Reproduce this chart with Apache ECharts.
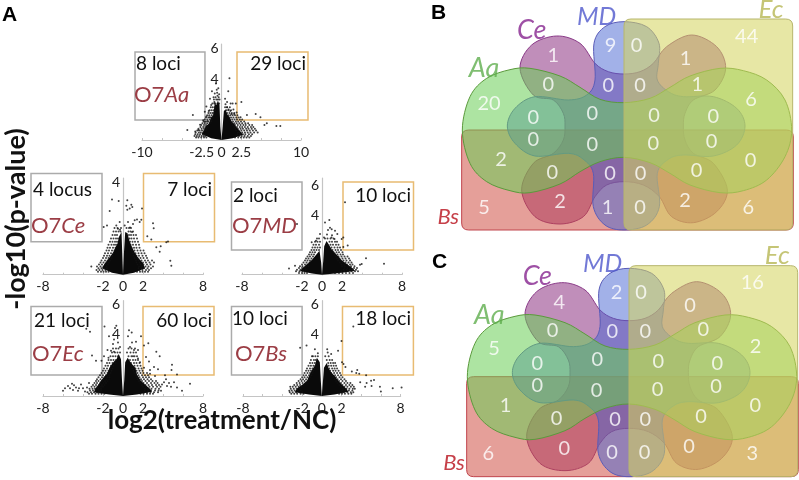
<!DOCTYPE html>
<html><head><meta charset="utf-8">
<style>html,body{margin:0;padding:0;background:#fff}#c{width:799px;height:480px}</style>
<script src="https://cdn.jsdelivr.net/npm/echarts@6/dist/echarts.min.js"></script>
</head><body><div id="c"></div>
<script>
// ---------- volcano data (log2 fold change, -log10 p) ----------
const xTicks10 = [-10,-2.5,0,2.5,10], xTicks8 = [-8,-2,0,2,8];
const yTicksAa = [4,6], yTicksCe = [4], yTicksMD = [4,6], yTicksEc = [4,6], yTicksBs = [4,6];
const lociAa = ['8 loci','29 loci'], lociCe = ['4 locus','7 loci'], lociMD = ['2 loci','10 loci'], lociEc = ['21 loci','60 loci'], lociBs = ['10 loci','18 loci'];

const coreAa = [[[0,0],[-.15,.9],[-.25,2.3],[-.45,2.6],[-.65,2.3],[-.85,2.4],[-1.05,1.6],[-1.3,1.5],[-1.6,1.05],[-1.9,.95],[-2.3,.55],[-2.5,.4],[-1.3,.12]],
                [[0,0],[.15,.9],[.3,1.9],[.5,2],[.75,1.65],[.95,1.55],[1.3,1.2],[1.6,1.05],[2,.75],[2.3,.6],[2.7,.35],[1.4,.12]]];
const ptsAa = [[-3.6,1.64],[-4.3,.65],[-3.3,.55],[-2.9,.65],[-2.7,1],[-2.3,1.3],[-2.1,1.85],[-1.9,2.2],[-1.45,2.7],[-1,2.8],[-1.2,3.2],[-.7,3.7],[-.4,3.4],[-.55,3.1],[-.3,3],[-.85,3.05],[-.75,2.8],[-1.3,2.3],[-1.6,1.9],[-1.9,1.55],[-2.1,1.2],[-1.5,1.5],[-1.75,1.25],[-.6,3.3],[-.35,2.8],[-.9,2.5],[-.5,2.9],
[1,4.05],[.85,3.2],[1.15,2.4],[1.8,2.4],[2.5,2.5],[1.5,2],[1.1,1.9],[.7,2.5],[.45,2.7],[.5,2.35],[1.4,2.4],[1.9,1.8],[2.4,1.5],[3.2,1.64],[4.3,1.7],[4.9,1.5],[5.7,1.1],[5.4,.98],[6.9,.92],[7.4,.92],[1.6,1.7],[.9,2],[.7,2.15],[1.25,1.7]];
const rowsAa = [[.16,[-3.2,-2.9,-2.55,-2.2,-1.9,1.7,2.1,2.45,2.8,3.15,3.5]],[.27,[-3.4,-3.1,-2.8,-2.5,-2.25,-2.05,1.85,2.2,2.55,2.9,3.3,3.7]],[.38,[-3.3,-3,-2.7,-2.35,-2.1,2,2.35,2.7,3,3.45,3.85]],[.5,[-3.25,-2.85,-2.6,-2.3,2.05,2.3,2.6,2.95,3.3,3.65,4.1,4.55]],[.62,[-3.05,-2.75,-2.45,-2.15,-1.95,1.85,2.15,2.5,2.85,3.2,3.55,3.95,4.35]],[.74,[-2.9,-2.5,-2.2,-1.9,1.75,2.05,2.4,2.7,3.1,3.4,3.8,4.2]],[.86,[-2.65,-2.3,-2.05,-1.75,1.6,1.95,2.3,2.6,2.95,3.3,3.7,4]],[.98,[-2.55,-2.2,-1.95,-1.6,1.4,1.7,2.05,2.4,2.75,3.05,3.5,3.85]],[1.1,[-2.4,-2.1,-1.8,-1.5,1.3,1.6,1.9,2.25,2.6,3,3.35]],[1.22,[-2.25,-1.95,-1.65,-1.3,1.15,1.45,1.8,2.1,2.45,2.85]],[1.35,[-2.1,-1.8,-1.5,-1.25,1.05,1.35,1.65,1.95,2.3,2.6]],[1.48,[-1.95,-1.65,-1.35,-1.1,.95,1.2,1.5,1.85,2.15]],[1.62,[-1.8,-1.55,-1.25,-1,.85,1.1,1.4,1.7,2]],[1.78,[-1.65,-1.4,-1.15,-.95,.7,1,1.3,1.6]],[1.95,[-1.5,-1.25,-1,-.8,.6,.85,1.2]],[2.15,[-1.35,-1.1,-.85,.45,.7,1.05]],[2.4,[-1.15,-.9,-.75,-.3]],[2.65,[-.95,-.65,-.45,-.25]]];

const coreCe = [[[0,0],[-.08,1],[-.15,1.85],[-.4,1.65],[-.55,1.35],[-.8,1.15],[-1,.95],[-1.35,.75],[-1.8,.5],[-2.1,.28],[-1.1,.08]],
                [[0,0],[.1,1],[.22,1.85],[.45,1.8],[.65,1.45],[.9,1.2],[1.15,.98],[1.5,.75],[2,.5],[2.2,.28],[1.1,.08]]];
const ptsCe = [[-1.1,3.27],[-.43,3.2],[.43,3.23],[.33,3],[.83,3.04],[.93,2.94],[.67,2.87],[.43,2.82],[-1.33,2.77],[1.9,2.87],[1.17,2.36],[1.83,2.39],[1.4,2.4],[1.67,2.29],[1,2.2],[.5,2.29],[.17,2.14],[-.33,2.29],[-.67,2.14],[-1.6,2.14],[-1.93,2.07],[3,2.24],[3.07,2.02],[2.43,1.67],[2.83,1.53],[4.33,1.41],[4.5,1.44],[3.77,1.24],[3.33,1.19],[3.67,1],[4.73,.61],[4.83,.39],[-3.17,.36],[-.5,2],[-.3,1.95],[.7,2.05],[.9,1.85]];
const rowsCe = [[.13,[-2.5,-2.2,-1.95,-1.7,-1.45,1.4,1.7,1.95,2.2,2.5]],[.2,[-2.65,-2.35,-2.05,-1.75,1.65,1.95,2.3,2.6]],[.28,[-2.45,-2.15,-1.85,-1.6,1.55,1.85,2.1,2.45,2.8]],[.36,[-2.6,-2.25,-1.95,-1.65,1.6,1.9,2.25,2.55,3]],[.44,[-2.4,-2.1,-1.8,-1.5,1.45,1.75,2.05,2.4,2.75]],[.53,[-2.25,-1.95,-1.65,-1.4,1.35,1.65,2,2.3,2.65,3.1]],[.62,[-2.15,-1.8,-1.55,-1.3,1.3,1.55,1.85,2.2,2.5,2.9]],[.72,[-2,-1.7,-1.45,-1.15,1.15,1.45,1.75,2.05,2.4]],[.82,[-1.9,-1.6,-1.35,-1.05,1.05,1.35,1.6,1.95,2.3]],[.93,[-1.8,-1.5,-1.2,-.95,1,1.25,1.55,1.85,2.15]],[1.05,[-1.65,-1.4,-1.1,-.85,.9,1.15,1.45,1.75,2.05]],[1.17,[-1.55,-1.3,-1,-.75,.85,1.1,1.35,1.65]],[1.3,[-1.45,-1.15,-.9,-.7,.75,1,1.3,1.6]],[1.43,[-1.3,-1.05,-.8,-.6,.7,.95,1.2,1.5]],[1.57,[-1.2,-.95,-.7,-.5,.65,.85,1.1,1.4]],[1.72,[-1.05,-.8,-.6,.6,.8,1.05,1.3]],[1.88,[-.95,-.7,-.45,-.25,.55,.75,1]],[2.03,[-.85,-.55,-.2,.35,.6,.8]]];

const coreMD = [[[0,0],[-.08,.8],[-.25,1.6],[-.5,1.4],[-.75,1.2],[-1,1],[-1.4,.75],[-1.9,.48],[-2.2,.25],[-1,.08]],
                [[0,0],[.12,.9],[.22,1.9],[.45,2.25],[.7,2],[.95,1.7],[1.3,1.45],[1.65,1.2],[2,.95],[2.5,.7],[3.1,.42],[3.3,.25],[1.3,.08]]];
const ptsMD = [[2.3,4.85],[-2.5,3.4],[.73,3.67],[.3,3.5],[.8,3.15],[.97,3.05],[1.3,2.95],[1.53,2.72],[-.2,2.72],[-.6,2.28],[-1.03,2.18],[1.97,2.4],[2.13,2.5],[2.57,1.95],[2.13,1.85],[4.4,1.1],[6.2,.74],[3.8,.67],[3.97,.72],[-3.3,.42],[-2.7,.6],[.2,2.5],[.5,2.7],[.95,2.5],[1,2.65],[.6,3],[1.25,2.4]];
const rowsMD = [[.12,[-2.3,-2,-1.75,-1.5,1.3,1.7,2.05,2.4,2.75,3.1]],[.23,[-2.6,-2.25,-1.95,-1.65,1.95,2.25,2.6,2.95,3.3,3.6]],[.34,[-2.5,-2.15,-1.85,-1.6,2.15,2.45,2.75,3.05,3.4]],[.45,[-2.3,-2,-1.7,2.25,2.55,2.85,3.2,3.5]],[.57,[-2.2,-1.95,-1.6,-1.35,2,2.3,2.6,2.9,3.25]],[.69,[-2,-1.7,-1.45,1.95,2.2,2.5,2.8,3.05]],[.82,[-1.85,-1.55,-1.25,1.8,2.05,2.35,2.65,2.95]],[.95,[-1.7,-1.45,-1.2,1.6,1.85,2.15,2.45,2.8]],[1.08,[-1.6,-1.35,-1.05,1.5,1.75,2.05,2.35,2.7]],[1.22,[-1.45,-1.2,-.9,1.4,1.65,1.95,2.25,2.55]],[1.36,[-1.3,-1.05,-.8,1.3,1.55,1.85,2.1]],[1.5,[-1.2,-.95,-.7,1.15,1.45,1.7,2.05]],[1.66,[-1.05,-.8,-.55,-.3,1.05,1.35,1.6,1.9]],[1.82,[-.95,-.7,-.45,-.2,.95,1.25,1.55,1.8]],[2,[-.85,-.6,-.3,.85,1.1,1.4,1.65]],[2.2,[-.7,-.45,-.2,.75,1,1.3,1.5]],[2.42,[-.5,-.3,.3,.55,.85,1.15]]];

const coreEc = [[[0,0],[-.1,1],[-.2,2.4],[-.43,2.75],[-.65,2.4],[-.9,2.25],[-1.27,1.95],[-1.6,1.45],[-1.9,1.25],[-2.27,.95],[-2.5,.7],[-2.8,.45],[-2.9,.25],[-1.4,.1]],
                [[0,0],[.12,1],[.22,2.2],[.47,2.5],[.7,2.25],[.95,2.05],[1.23,1.85],[1.4,1.4],[1.8,.98],[2.2,.75],[2.7,.48],[2.9,.28],[1.4,.1]]];
const ptsEc = [[-3.67,4.4],[-3.3,4.2],[-1.85,4.55],[-.8,4.45],[-.67,4.6],[.6,4.3],[.87,4.15],[1.8,3.9],[-1.4,3.9],[-.9,3.7],[-.5,3.5],[-1,3.4],[-.3,3.2],[.5,3.9],[.9,3.5],[1.3,3.55],[.7,3.2],[1.1,3],[1.5,3],[-1.55,3],[-1.2,2.95],[-1.9,2.6],[-1.45,2.5],[-.9,2.9],[-2.15,2.3],[-2.7,2.3],[-3.1,2.65],[2.53,3.45],[2.1,3.3],[3.33,2.9],[3.67,2.6],[2.3,2.55],[2.6,2.25],[3.1,1.9],[4.9,2.05],[4.85,1.7],[3.5,1.75],[2.7,1.7],[5.4,1.4],[4.2,1.35],[3.2,1.3],[2.7,1.45],[2.1,1.85],[1.7,2.2],[1.5,2.45],[1,2.6],
[-6,.35],[-5.5,.65],[-5.1,.8],[-5,.4],[-4.7,.55],[-4.5,.35],[-4.2,.75],[-4,.5],[-3.8,.3],[-3.6,.55],[-3.4,.85],[-5.8,.5],[-5.3,.5],[-4.9,.7],[-4.4,.5],[6.7,.8],[5.9,.35],[5.4,.55],[5.1,.9],[4.8,.6],[4.4,.65],[4.3,1.1],[4.1,.9],[3.9,.75],[3.8,.35],[4.6,.85]];
const rowsEc = [[.14,[-3.4,-3.1,-2.75,-2.45,-2.15,-1.85,1.75,2.05,2.4,2.7,3]],[.25,[-3.55,-3.2,-2.9,-2.6,-2.3,2.1,2.4,2.75,3.1,3.5]],[.36,[-3.3,-3,-2.7,-2.4,-2.2,2.15,2.5,2.8,3.2,3.55]],[.48,[-3.35,-3.05,-2.8,-2.5,-2.2,2.2,2.5,2.85,3.25,3.6]],[.6,[-3.15,-2.85,-2.55,-2.2,-2,2,2.3,2.65,3,3.4,3.75]],[.72,[-3,-2.7,-2.4,-2.1,-1.85,1.9,2.25,2.55,2.9,3.3,3.6]],[.85,[-2.85,-2.6,-2.25,-1.95,-1.7,1.75,2.05,2.4,2.8,3.15,3.45]],[.98,[-2.7,-2.45,-2.1,-1.8,-1.55,1.6,1.9,2.25,2.6,2.95,3.3]],[1.1,[-2.6,-2.25,-1.95,-1.65,-1.4,1.45,1.8,2.1,2.45,2.8]],[1.23,[-2.45,-2.1,-1.85,-1.55,-1.35,1.4,1.65,2,2.3,2.6]],[1.36,[-2.3,-2,-1.7,-1.4,1.3,1.55,1.9,2.2,2.5]],[1.5,[-2.15,-1.85,-1.55,-1.25,1.15,1.45,1.75,2.05,2.4]],[1.65,[-2,-1.75,-1.45,-1.15,1.05,1.35,1.65,1.95]],[1.8,[-1.9,-1.6,-1.3,-1.05,.95,1.25,1.55,1.85]],[1.97,[-1.75,-1.5,-1.2,-.95,.9,1.15,1.45,1.75]],[2.15,[-1.6,-1.35,-1.05,-.75,.8,1.1,1.35,1.65]],[2.35,[-1.45,-1.2,-.95,-.7,.7,1,1.25,1.5]],[2.6,[-1.25,-1,-.75,-.5,.55,.85,1.15,1.4]],[2.85,[-1.1,-.8,-.55,-.3,.4,.75,1.05,1.3]],[3.1,[-1,-.7,-.45,.55,.85,1.2]]];

const coreBs = [[[0,0],[-.1,1],[-.2,2.2],[-.5,2.5],[-.7,2],[-.95,1.75],[-1.2,1.45],[-1.5,1],[-1.95,.75],[-2.5,.5],[-2.75,.25],[-1.3,.1]],
                [[0,0],[.12,1],[.22,1.85],[.5,2.15],[.7,1.8],[.95,1.55],[1.25,1.35],[1.7,.98],[2.1,.7],[2.5,.48],[2.7,.27],[1.3,.1]]];
const ptsBs = [[3.2,4.55],[-1.55,3.3],[-2.2,3.15],[.55,3.05],[.6,2.85],[.95,2.75],[1.65,2.95],[2,3.6],[2.05,2.2],[2.2,2.1],[2.4,1.9],[-.7,3.05],[-.4,2.8],[-1,2.6],[3.5,1.5],[3.8,1.45],[3.6,1.7],[3.05,1.6],[3.9,.9],[4.5,1.35],[5.3,1.05],[5,1],[5.05,.65],[4.4,.6],[4.55,.85],[6,.3],[7.2,.5],[8.1,.55],[5.9,.6],[-3.3,.35],[-3.2,.6]];
const rowsBs = [[.14,[-3.1,-2.8,-2.5,-2.15,-1.85,1.75,2.05,2.35,2.7,3]],[.25,[-3.25,-2.95,-2.6,-2.25,-2,1.95,2.25,2.6,2.95,3.2]],[.36,[-3.05,-2.75,-2.45,-2.15,2.1,2.4,2.75,3.1]],[.48,[-3.15,-2.85,-2.55,-2.25,2.15,2.5,2.8,3.15,3.35]],[.6,[-2.95,-2.65,-2.35,-2.05,1.95,2.3,2.6,2.95,3.25]],[.72,[-2.8,-2.5,-2.2,-1.85,1.8,2.1,2.45,2.8,3.1]],[.85,[-2.55,-2.25,-1.95,-1.65,1.6,1.95,2.3,2.6,2.9]],[.98,[-2.35,-2.05,-1.75,-1.45,1.45,1.75,2.1,2.45]],[1.1,[-2.15,-1.9,-1.6,-1.3,1.3,1.6,1.95,2.3]],[1.23,[-2,-1.75,-1.45,-1.2,1.15,1.45,1.8,2.1]],[1.36,[-1.85,-1.6,-1.3,-1.05,1.05,1.35,1.65,1.95]],[1.5,[-1.75,-1.45,-1.2,-.95,.95,1.25,1.55,1.85]],[1.65,[-1.6,-1.35,-1.1,-.85,.85,1.15,1.4,1.7]],[1.8,[-1.5,-1.2,-.95,-.75,.75,1.05,1.3,1.55]],[1.97,[-1.35,-1.1,-.85,-.65,.7,.95,1.2,1.45]],[2.15,[-1.2,-.95,-.7,.65,.9,1.15,1.35]],[2.35,[-1.1,-.8,-.6,.5,.8,1.05]],[2.6,[-.9,-.65,-.4,.35,.7]]];

const boxesAa = [[-10.88,-2.08,1.31,5.77],[1.95,10.88,1.31,5.77]];
const boxesCe = [[-9.2,-2.1,1.43,4.4],[2.05,9.15,1.43,4.4]];
const boxesMD = [[-9.05,-2,1.66,6.22],[2.1,9.15,1.66,6.22]];
const boxesEc = [[-9.2,-2.1,1.37,5.85],[2,9.1,1.37,5.85]];
const boxesBs = [[-9.17,-2,1.37,5.85],[2.1,9.3,1.37,5.85]];

// ---------- Venn data ----------
const setNames = ['Aa','Bs','Ce','Ec','MD'];
const countsB = [44,1,9,0,1,0,0,0,1,20,6,0,0,0,0,0,0,0,0,2,0,0,0,0,0,2,2,1,0,5,6];
const countsC = [16,4,2,0,0,0,0,0,0,5,2,0,0,0,0,0,0,0,0,1,0,0,0,0,0,0,0,0,0,6,3];

// label positions (layout, not data), in a 1137x720 venn canvas
const posB = [[980,110],[400,168],[572,137],[650,137],[797,175],[385,255],[565,258],[660,258],[832,253],[207,310],[993,300],[340,352],[517,340],[702,347],[880,350],[340,420],[517,433],[700,430],[875,425],[243,480],[992,482],[397,518],[570,520],[662,520],[830,513],[420,605],[795,603],[563,622],[660,622],[192,623],[985,622]];
const posC = [[997,128],[418,188],[590,158],[663,157],[810,198],[398,272],[577,274],[676,274],[850,270],[222,327],[1007,320],[352,372],[532,360],[715,365],[892,370],[352,438],[530,452],[713,448],[888,440],[257,497],[1006,498],[410,537],[585,540],[676,540],[843,530],[433,625],[807,620],[576,638],[674,638],[205,640],[997,640]];
const namePosB = [[192,205],[85,652],[335,92],[1053,30],[530,52]];
const namePosC = [[208,225],[102,668],[352,110],[1072,48],[548,72]];
const nameColors = ['#5FAE4E','#B8101C','#86248E','#B7B754','#4F57CC'];
const nameSizes = [27,22,27,26,25];

const outlineAa = [[612,308],[540,298],[480,262],[420,228],[330,205],[270,209],[200,235],[150,290],[127,390],[150,490],[200,545],[270,572],[330,578],[420,552],[480,515],[540,485],[612,472],[690,488],[750,520],[810,555],[900,578],[970,572],[1040,540],[1095,470],[1115,390],[1095,300],[1040,240],[970,212],[900,205],[810,228],[750,262],[690,295]];
const outlineMD = [[612,65],[680,80],[717,130],[715,190],[712,240],[745,275],[790,290],[880,290],[950,325],[975,378],[950,435],[880,468],[790,465],[745,478],[712,520],[718,620],[680,675],[612,690],[555,675],[520,620],[520,520],[490,478],[445,460],[345,468],[285,430],[262,378],[285,325],[345,290],[445,300],[500,285],[525,240],[522,130],[555,80]];
const outlineCe = [[612,222],[660,215],[700,190],[740,140],[815,105],[890,140],[917,205],[885,270],[820,300],[795,340],[790,378],[795,420],[820,460],[880,490],[922,570],[890,635],[820,668],[755,650],[718,590],[670,555],[612,545],[560,555],[525,590],[490,650],[420,672],[345,650],[305,570],[340,490],[400,460],[430,420],[435,378],[430,340],[400,300],[340,285],[300,205],[335,135],[410,108],[480,130],[525,190],[565,215]];
const rectBs = [125,390,1120,690], rectEc = [612,57,1118,690];

// ---------- build ----------
const FONT = 'Lato';
const expand = (pts,rows)=>pts.concat(...rows.map(r=>r[1].map(x=>[x,r[0]])));
const vp = [
 {name:'Aa',rect:[142,44,159,96],xr:[-10,10],iv:2.5,yMax:6.3,lab:xTicks10,yl:yTicksAa,core:coreAa,pts:expand(ptsAa,rowsAa),box:boxesAa},
 {name:'Ce',rect:[43,178,160,96.7],xr:[-8,8],iv:2,yMax:4.2,lab:xTicks8,yl:yTicksCe,core:coreCe,pts:expand(ptsCe,rowsCe),box:boxesCe},
 {name:'MD',rect:[242,178,160,96.7],xr:[-8,8],iv:2,yMax:6.48,lab:xTicks8,yl:yTicksMD,core:coreMD,pts:expand(ptsMD,rowsMD),box:boxesMD},
 {name:'Ec',rect:[43,300.7,160,95.3],xr:[-8,8],iv:2,yMax:6.23,lab:xTicks8,yl:yTicksEc,core:coreEc,pts:expand(ptsEc,rowsEc),box:boxesEc},
 {name:'Bs',rect:[243,300.7,157.6,95.3],xr:[-8,8],iv:2,yMax:6.23,lab:xTicks8,yl:yTicksBs,core:coreBs,pts:expand(ptsBs,rowsBs),box:boxesBs}
];
const grid=[],xAxis=[],yAxis=[],series=[];
vp.forEach((p,i)=>{
  grid.push({left:p.rect[0],top:p.rect[1],width:p.rect[2],height:p.rect[3]});
  xAxis.push({type:'value',gridIndex:i,min:p.xr[0],max:p.xr[1],interval:p.iv,splitLine:{show:false},
    axisLine:{onZero:false,lineStyle:{color:'#c4c4c4',width:1.2}},
    axisTick:{show:true,inside:true,length:2,lineStyle:{color:'#c4c4c4'}},
    axisLabel:{customValues:p.lab,showMinLabel:true,showMaxLabel:true,hideOverlap:false,margin:5,color:'#222',fontFamily:FONT,fontSize:14,formatter:v=>String(v)}});
  yAxis.push({type:'value',gridIndex:i,min:0,max:p.yMax,splitLine:{show:false},
    axisLine:{show:true,onZero:true,lineStyle:{color:'#c4c4c4',width:1.2}},axisTick:{show:false},
    axisLabel:{customValues:p.yl,margin:3-p.rect[2]/2,color:'#222',fontFamily:FONT,fontSize:14,formatter:v=>String(v)}});
  series.push({type:'custom',name:'box '+p.name,xAxisIndex:i,yAxisIndex:i,clip:false,silent:true,z:1,data:p.box,
    renderItem:(param,api)=>{
      const a=api.coord([api.value(0),api.value(3)]),b=api.coord([api.value(1),api.value(2)]);
      return {type:'rect',shape:{x:a[0],y:a[1],width:b[0]-a[0],height:b[1]-a[1]},
        style:{fill:'none',stroke:param.dataIndex===0?'#ababab':'#e8bb72',lineWidth:1.5}};
    }});
  series.push({type:'custom',name:'core '+p.name,xAxisIndex:i,yAxisIndex:i,clip:false,silent:true,z:2,data:[0,1],
    renderItem:(param,api)=>({type:'polygon',shape:{points:p.core[param.dataIndex].map(c=>api.coord(c)),smooth:0},style:{fill:'#0a0a0a'}})});
  series.push({type:'scatter',name:'O7'+p.name,xAxisIndex:i,yAxisIndex:i,clip:false,silent:true,z:3,symbolSize:2,
    itemStyle:{color:'#111'},data:p.pts});
});

// venn: hidden coordinate spaces
function curve(ps){
  const n=ps.length;let d='M'+ps[0][0]+' '+ps[0][1];
  for(let i=0;i<n;i++){
    const p0=ps[(i-1+n)%n],p1=ps[i],p2=ps[(i+1)%n],p3=ps[(i+2)%n];
    d+='C'+(p1[0]+(p2[0]-p0[0])/6)+' '+(p1[1]+(p2[1]-p0[1])/6)+' '+(p2[0]-(p3[0]-p1[0])/6)+' '+(p2[1]-(p3[1]-p1[1])/6)+' '+p2[0]+' '+p2[1];
  }
  return d+'Z';
}
const vennStyles = {
  Bs:{fill:'rgba(205,70,60,0.52)',stroke:'#c0444c'},
  MD:{fill:'rgba(70,100,210,0.50)',stroke:'#5a5cb8'},
  Ce:{fill:'rgba(140,50,130,0.55)',stroke:'#8a3a88'},
  Aa:{fill:'rgba(105,205,85,0.55)',stroke:'#5b9a3c'},
  Ec:{fill:'rgba(212,212,95,0.56)',stroke:'#b7b66c'}
};
[[420,0,0,0,posB,countsB,namePosB],[420,240,15,20,posC,countsC,namePosC]].forEach((v,k)=>{
  const gi=grid.length;
  grid.push({left:v[0],top:v[1],width:379,height:240});
  xAxis.push({type:'value',gridIndex:gi,min:0,max:1137,show:false});
  yAxis.push({type:'value',gridIndex:gi,min:0,max:720,inverse:true,show:false});
  const dx=v[2],dy=v[3];
  const add=(nm,fn)=>series.push({type:'custom',name:'venn '+nm,xAxisIndex:gi,yAxisIndex:gi,clip:false,silent:true,z:5,data:[0],
    renderItem:(param,api)=>({type:'path',shape:{pathData:fn(api)},style:{fill:vennStyles[nm].fill,stroke:vennStyles[nm].stroke,lineWidth:1}})});
  const blob=o=>api=>curve(o.map(c=>api.coord([c[0]+dx,c[1]+dy])));
  const rrect=r=>api=>{
    const a=api.coord([r[0]+dx,r[1]+dy]),b=api.coord([r[2]+dx,r[3]+dy]),q=7;
    return `M${a[0]+q} ${a[1]}L${b[0]-q} ${a[1]}Q${b[0]} ${a[1]} ${b[0]} ${a[1]+q}L${b[0]} ${b[1]-q}Q${b[0]} ${b[1]} ${b[0]-q} ${b[1]}L${a[0]+q} ${b[1]}Q${a[0]} ${b[1]} ${a[0]} ${b[1]-q}L${a[0]} ${a[1]+q}Q${a[0]} ${a[1]} ${a[0]+q} ${a[1]}Z`;
  };
  add('Ce',blob(outlineCe)); add('Bs',rrect(rectBs)); add('MD',blob(outlineMD)); add('Aa',blob(outlineAa)); add('Ec',rrect(rectEc));
  series.push({type:'scatter',name:'counts',xAxisIndex:gi,yAxisIndex:gi,clip:false,silent:true,z:8,symbolSize:0,
    data:v[5].map((c,i)=>[v[4][i][0],v[4][i][1],c]),
    label:{show:true,position:'inside',formatter:o=>String(o.value[2]),color:'#fff',fontFamily:FONT,fontSize:20}});
  series.push({type:'scatter',name:'sets',xAxisIndex:gi,yAxisIndex:gi,clip:false,silent:true,z:8,symbolSize:0,
    data:setNames.map((n,i)=>({value:[v[6][i][0],v[6][i][1]],name:n,label:{color:nameColors[i],fontSize:nameSizes[i]}})),
    label:{show:true,position:'inside',formatter:o=>o.name,fontFamily:FONT,fontStyle:'italic'}});
});

const txt=(x,y,t,o)=>({type:'text',x,y,z:20,style:Object.assign({text:t,fontFamily:FONT,fontSize:19,fill:'#111',textVerticalAlign:'middle'},o||{})});
const o7=(x,y,b)=>txt(x,y,'{p|O7}{q|'+b+'}',{rich:{p:{fontFamily:FONT,fontSize:22,fill:'#9b3d45'},q:{fontFamily:FONT,fontStyle:'italic',fontSize:22,fill:'#9b3d45'}}});
const pl=(x,y,t)=>txt(x,y,t,{fontFamily:'Liberation Sans',fontWeight:'bold',fontSize:21,fill:'#000'});
const graphic=[
 pl(2,15,'A'),pl(431,13,'B'),pl(432,262,'C'),
 txt(136,64,lociAa[0]),txt(306,64,lociAa[1],{textAlign:'right'}),o7(134,95,'Aa'),
 txt(33,190,lociCe[0]),txt(212,190,lociCe[1],{textAlign:'right'}),o7(31,226,'Ce'),
 txt(233,196,lociMD[0]),txt(411,196,lociMD[1],{textAlign:'right'}),o7(232,226,'MD'),
 txt(34,321,lociEc[0]),txt(212,321,lociEc[1],{textAlign:'right'}),o7(32,354,'Ec'),
 txt(232,319,lociBs[0]),txt(411,319,lociBs[1],{textAlign:'right'}),o7(235,354,'Bs'),
 {type:'text',x:16,y:219,rotation:Math.PI/2,z:20,style:{text:'-log10(p-value)',fontFamily:FONT,fontWeight:'bold',fontSize:27,fill:'#111',textAlign:'center',textVerticalAlign:'middle'}},
 txt(222,421,'log2(treatment/NC)',{fontWeight:'bold',fontSize:26,textAlign:'center'})
];

const chart=echarts.init(document.getElementById('c'));
chart.setOption({animation:false,backgroundColor:'#fff',grid,xAxis,yAxis,series,graphic});
</script></body></html>
